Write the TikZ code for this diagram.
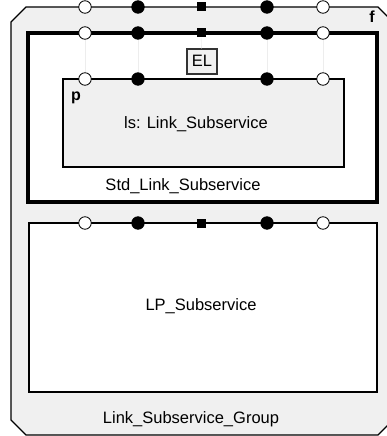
\documentclass[tikz,border=0pt]{standalone}
\usepackage{fontspec}
\setmainfont{Liberation Sans}
\begin{document}
\begin{tikzpicture}[x=1pt,y=-1pt,
  wport/.style={circle,draw=black,fill=white,line width=0.8pt,minimum size=12.5pt,inner sep=0pt},
  bport/.style={circle,draw=black,fill=black,line width=0.8pt,minimum size=12.5pt,inner sep=0pt},
  sport/.style={rectangle,fill=black,minimum size=9pt,inner sep=0pt},
  lbl/.style={anchor=base,inner sep=0pt,font=\fontsize{16.5}{18}\selectfont},
  tag/.style={anchor=base,inner sep=0pt,font=\bfseries\fontsize{16}{18}\selectfont},
  link/.style={draw=black!7,line width=0.6pt},
  groupfill/.style={fill=black!6},
  partfill/.style={fill=black!6}]
\useasboundingbox (0,0) rectangle (387,436);
\clip (0,0) rectangle (387,436);

% enclosing group with chamfered corners
\draw[groupfill,line width=1.3pt] (11,22) -- (26,7) -- (378,7) -- (393,22)
  -- (393,420) -- (378,435) -- (26,435) -- (11,420) -- cycle;

% Std_Link_Subservice
\draw[fill=white,line width=3.5pt] (28,33) rectangle (377,202);

% ls: Link_Subservice part
\draw[partfill,line width=1.2pt] (63,79) rectangle (344,167);

% LP_Subservice
\draw[fill=white,line width=1.2pt] (29,223) rectangle (377,392);

% EL element
\node[draw=black!80,line width=1.1pt,partfill,minimum width=30pt,minimum height=25pt,inner sep=0pt] (el) at (202,61.5) {};
\node[lbl] (eltext) at (202,66.5) {EL};

% ports on the group border
\node[wport] (o1) at (85,7) {};
\node[bport] (o2) at (138,7) {};
\node[sport] (o3) at (201,7) {};
\node[bport] (o4) at (267,7) {};
\node[wport] (o5) at (323,7) {};

% ports on Std_Link_Subservice
\node[wport] (t1) at (85,33) {};
\node[bport] (t2) at (138,33) {};
\node[sport] (t3) at (201,33) {};
\node[bport] (t4) at (267,33) {};
\node[wport] (t5) at (323,33) {};

% ports on the inner part
\node[wport] (i1) at (85,79) {};
\node[bport] (i2) at (138,79) {};
\node[bport] (i4) at (267,79) {};
\node[wport] (i5) at (323,79) {};

% ports on LP_Subservice
\node[wport] (l1) at (85,223) {};
\node[bport] (l2) at (138,223) {};
\node[sport] (l3) at (201,223) {};
\node[bport] (l4) at (267,223) {};
\node[wport] (l5) at (323,223) {};

% faint bindings between ports
\draw[link] (t1) -- (i1);
\draw[link] (t2) -- (i2);
\draw[link] (t4) -- (i4);
\draw[link] (t5) -- (i5);
\draw[link] (t3) -- (el);

% labels
\node[tag] (ftag) at (372,23) {f};
\node[tag] (ptag) at (76,100) {p};
\node[lbl] (lsname) at (196,128) {ls: Link\_Subservice};
\node[lbl] (stdname) at (183,190) {Std\_Link\_Subservice};
\node[lbl] (lpname) at (201,310) {LP\_Subservice};
\node[lbl] (grpname) at (191,423.5) {Link\_Subservice\_Group};
\end{tikzpicture}
\end{document}
